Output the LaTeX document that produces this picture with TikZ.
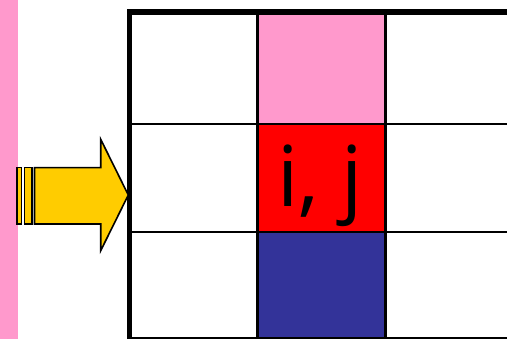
\documentclass[tikz,border=0pt]{standalone}
\usepackage{fontspec}
\setmainfont{Open Sans}
\definecolor{pinkc}{HTML}{FF99CC}
\definecolor{redc}{HTML}{FF0000}
\definecolor{bluec}{HTML}{333399}
\definecolor{yellowc}{HTML}{FFCC00}
\tikzset{
  cellbox/.style={draw=black, line width=2.5pt},
  arrowpart/.style={draw=black, line width=1.6pt, fill=yellowc, line join=miter},
}
\begin{document}
\begin{tikzpicture}[x=1pt,y=-1pt]
\useasboundingbox (0,0) rectangle (507,339);
\clip (0,0) rectangle (507,339);
% pink bar
\fill[pinkc] (0,-2) rectangle (17.5,341);
% coloured cells
\fill[pinkc] (257.5,12) rectangle (385.5,124);
\fill[redc] (257.5,124) rectangle (385.5,232);
\fill[bluec] (257.5,232) rectangle (385.5,341);
% inner grid lines
\draw[cellbox] (257.5,12) -- (257.5,345);
\draw[cellbox] (385.5,12) -- (385.5,345);
\draw[cellbox] (129.5,124) -- (520,124);
\draw[cellbox] (129.5,232) -- (520,232);
% outer border
\draw[line width=5.5pt] (520,12) -- (129.5,12) -- (129.5,345);
\draw[line width=2.5pt] (129.5,338.5) -- (520,338.5);
% label
\node[font=\fontsize{84}{84}\selectfont, inner sep=0pt] (ij) at (320,186) {i, j};
% arrow
\draw[arrowpart] (17,167.7) rectangle (21.3,224);
\draw[arrowpart] (24.5,167.7) rectangle (32,224);
\draw[arrowpart] (34.5,167.7) -- (100.7,167.7) -- (100.7,139.3) -- (128.3,195)
  -- (100.7,250.7) -- (100.7,224) -- (34.5,224) -- cycle;
\end{tikzpicture}
\end{document}
